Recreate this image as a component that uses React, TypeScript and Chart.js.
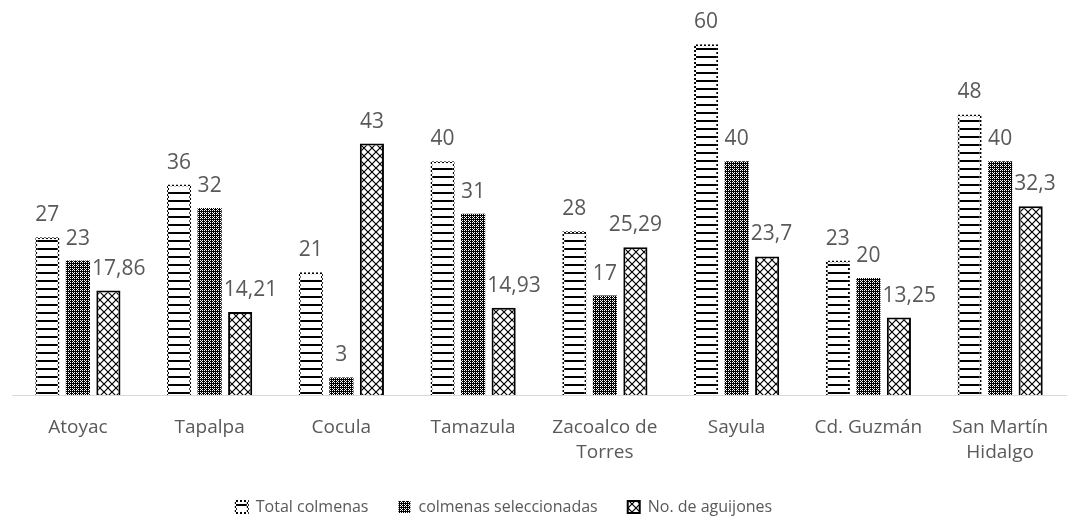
import React, { useEffect, useRef } from "react";
import { Chart, registerables } from "chart.js";

Chart.register(...registerables);

const categories: (string | string[])[] = [
  "Atoyac",
  "Tapalpa",
  "Cocula",
  "Tamazula",
  ["Zacoalco de", "Torres"],
  "Sayula",
  "Cd. Guzmán",
  ["San Martín", "Hidalgo"],
];
const seriesNames = ["Total colmenas", "colmenas seleccionadas", "No. de aguijones"];
const totalColmenas = [27, 36, 21, 40, 28, 60, 23, 48];
const colmenasSeleccionadas = [23, 32, 3, 31, 17, 40, 20, 40];
const aguijones = [17.86, 14.21, 43, 14.93, 25.29, 23.7, 13.25, 32.3];

const FONT = "'Open Sans', 'DejaVu Sans', sans-serif";
const TEXT_COLOR = "#595959";
const LABEL_SIZE = 21;

function makePattern(w: number, h: number, draw: (c: CanvasRenderingContext2D) => void) {
  const cv = document.createElement("canvas");
  cv.width = w;
  cv.height = h;
  const c = cv.getContext("2d")!;
  draw(c);
  return c.createPattern(cv, "repeat")!;
}

const valueLabels = {
  id: "valueLabels",
  afterDatasetsDraw(chart: any) {
    const ctx = chart.ctx;
    ctx.save();
    ctx.font = `${LABEL_SIZE}px ${FONT}`;
    ctx.fillStyle = TEXT_COLOR;
    ctx.textAlign = "center";
    ctx.textBaseline = "middle";
    chart.data.datasets.forEach((ds: any, i: number) => {
      const meta = chart.getDatasetMeta(i);
      const prevMeta = i > 0 ? chart.getDatasetMeta(i - 1) : null;
      meta.data.forEach((bar: any, j: number) => {
        const text = String(ds.data[j]).replace(".", ",");
        const w = ctx.measureText(text).width;
        let cx = bar.x;
        const cy = bar.y - 22;
        if (prevMeta) {
          const pb: any = prevMeta.data[j];
          const pRight = pb.x + pb.width / 2;
          if (cx - w / 2 < pRight + 1 && cy + LABEL_SIZE / 2 > pb.y) {
            cx = pRight + 2 + w / 2;
          }
        }
        ctx.fillText(text, cx, cy);
      });
    });
    ctx.restore();
  },
};

const legendShift = {
  id: "legendShift",
  afterLayout(chart: any) {
    if (chart.legend) chart.legend.right -= 70;
  },
};

export default function App() {
  const ref = useRef<HTMLCanvasElement>(null);
  useEffect(() => {
    const hLines = makePattern(8, 8, (c) => {
      c.fillStyle = "#fff";
      c.fillRect(0, 0, 8, 8);
      c.fillStyle = "#000";
      c.fillRect(0, 0, 8, 2);
    });
    const dotted = makePattern(4, 4, (c) => {
      c.fillStyle = "#fff";
      c.fillRect(0, 0, 4, 4);
      c.fillStyle = "#000";
      c.fillRect(0, 0, 2, 2);
      c.fillRect(2, 2, 2, 2);
    });
    const checker = makePattern(4, 4, (c) => {
      c.fillStyle = "#000";
      c.fillRect(0, 0, 4, 4);
      c.fillStyle = "#fff";
      c.fillRect(0, 0, 1, 1);
      c.fillRect(2, 2, 1, 1);
      c.fillRect(2, 0, 1, 1);
      c.fillRect(0, 2, 1, 1);
      c.fillRect(1, 1, 1, 1);
    });
    const diamonds = makePattern(8, 8, (c) => {
      c.fillStyle = "#fff";
      c.fillRect(0, 0, 8, 8);
      c.strokeStyle = "#000";
      c.lineWidth = 1.2;
      c.beginPath();
      c.moveTo(-1, -1);
      c.lineTo(9, 9);
      c.moveTo(9, -1);
      c.lineTo(-1, 9);
      c.stroke();
    });

    const chart = new Chart(ref.current!, {
      type: "bar",
      data: {
        labels: categories,
        datasets: [
          {
            label: seriesNames[0],
            data: totalColmenas,
            backgroundColor: hLines,
            borderColor: dotted,
            borderWidth: 2,
          },
          {
            label: seriesNames[1],
            data: colmenasSeleccionadas,
            backgroundColor: checker,
            borderColor: "#000",
            borderWidth: 0,
          },
          {
            label: seriesNames[2],
            data: aguijones,
            backgroundColor: diamonds,
            borderColor: "#000",
            borderWidth: 2,
          },
        ],
      },
      options: {
        responsive: false,
        animation: false,
        datasets: { bar: { categoryPercentage: 0.695, barPercentage: 0.79 } },
        layout: { padding: { left: 12, right: 17, top: 15, bottom: 0 } },
        scales: {
          x: {
            grid: { display: false, drawTicks: false },
            border: { display: true, color: "#d9d9d9", width: 1 },
            ticks: {
              color: TEXT_COLOR,
              font: { family: FONT, size: 19, lineHeight: 1.32 },
              padding: 20,
              maxRotation: 0,
              autoSkip: false,
            },
            afterFit: (s: any) => {
              s.height = 74;
            },
          },
          y: { display: false, min: 0, max: 65 },
        },
        plugins: {
          legend: {
            position: "bottom",
            maxHeight: 50,
            labels: {
              color: TEXT_COLOR,
              font: { family: FONT, size: 16 },
              boxWidth: 12,
              boxHeight: 12,
              padding: 30,
            },
          },
          tooltip: { enabled: false },
        },
      },
      plugins: [valueLabels, legendShift],
    });
    return () => chart.destroy();
  }, []);
  return (
    <div style={{ position: "absolute", left: 0, top: 0, width: 1083, height: 519, background: "#fff" }}>
      <canvas ref={ref} width={1083} height={519} style={{ display: "block" }} />
    </div>
  );
}
